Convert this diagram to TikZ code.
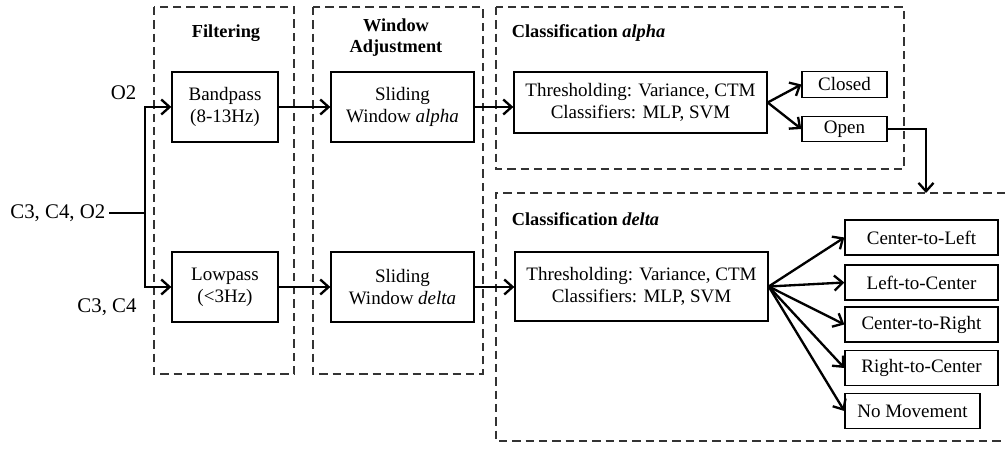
\documentclass[tikz,border=0pt]{standalone}
\usepackage{fontspec}
\setmainfont{Liberation Serif}
\usetikzlibrary{arrows.meta}
\tikzset{%
  >={Straight Barb[length=5pt,width=9pt]}, % open arrow heads
  flow/.style={->,line width=1.4pt},%
  stage box/.style={draw,line width=0.8pt,align=center,inner sep=2pt,
    font=\fontsize{11.4}{13.2}\selectfont},%
  signal label/.style={inner sep=2pt,font=\fontsize{12.5}{15}\selectfont},%
  group frame/.style={draw=black!80,line width=0.8pt,dash pattern=on 5pt off 3pt},%
  group title/.style={font=\fontsize{11}{13}\selectfont\bfseries,align=center}%
}

\begin{document}
\begin{tikzpicture}[x=0.6pt,y=-0.6pt]

%definitions
\def\W{1005} % picture width
\def\H{459} % picture height
\useasboundingbox (0,0) rectangle (\W,\H);
\coordinate (S) at (145,213); % split point of the inputs
\coordinate (D) at (926,193); % entry of classification delta

%frames
\draw[group frame] (154,7) rectangle (294,374);
\draw[group frame] (313,7) rectangle (483,374);
\draw[group frame] (496,7) rectangle (904,169);
\draw[group frame] (\W,193) -- (496,193) -- (496,441) -- (\W,441);

%titles
\node[group title] (TF) at (226,33) {Filtering};
\node[group title] (TW) at (396,37.5) {Window\\Adjustment};
\node[group title,anchor=west] (TA) at (506,33) {Classification \textit{alpha}};
\node[group title,anchor=west] (TD) at (506,219) {Classification \textit{delta}};

%boxes
\node[stage box,minimum width=63.6pt,minimum height=42pt] (BP) at (225,107)
  {Bandpass\\(8-13Hz)};
\node[stage box,minimum width=63.6pt,minimum height=42pt] (LP) at (225,287)
  {Lowpass\\(<3Hz)};
\node[stage box,minimum width=85.8pt,minimum height=42pt] (SA) at (402.5,107)
  {Sliding\\Window \textit{alpha}};
\node[stage box,minimum width=85.8pt,minimum height=42pt] (SD) at (402.5,287)
  {Sliding\\Window \textit{delta}};
\node[stage box,minimum width=151.8pt,minimum height=36.6pt] (TA1) at (640.5,102.5)
  {Thresholding: Variance, CTM\\Classifiers: MLP, SVM};
\node[stage box,minimum width=151.8pt,minimum height=41.4pt] (TD1) at (641.5,286.5)
  {Thresholding: Variance, CTM\\Classifiers: MLP, SVM};
\node[stage box,minimum width=51pt,minimum height=15.3pt] (CL) at (844.5,84.5) {Closed};
\node[stage box,minimum width=51pt,minimum height=15.3pt] (OP) at (844.5,129) {Open};
\node[stage box,minimum width=91.8pt,minimum height=21pt] (CtL) at (921.5,237.5) {Center-to-Left};
\node[stage box,minimum width=91.8pt,minimum height=21pt] (LtC) at (921.5,282.5) {Left-to-Center};
\node[stage box,minimum width=91.8pt,minimum height=21pt] (CtR) at (921.5,324.5) {Center-to-Right};
\node[stage box,minimum width=91.8pt,minimum height=21pt] (RtC) at (921.5,368) {Right-to-Center};
\node[stage box,minimum width=81pt,minimum height=21pt] (NM) at (912.5,411) {No Movement};

%labels
\node[signal label,anchor=east] (IN) at (109,213) {C3, C4, O2};
\node[signal label] (LO) at (123.5,93) {O2};
\node[signal label] (LC) at (107,307) {C3, C4};

%arrows
\draw[line width=1.4pt] (IN.east) -- (S);
\draw[flow] (S) |- (BP.west);
\draw[flow] (S) |- (LP.west);
\draw[flow] (BP) -- (SA);
\draw[flow] (LP) -- (SD);
\draw[flow] (SA.east) -- (SA.east -| TA1.west);
\draw[flow] (SD.east) -- (SD.east -| TD1.west);
\draw[flow] (TA1.east) -- (CL.west);
\draw[flow] (TA1.east) -- (OP.west);
\draw[flow] (OP.east) -| (D);
\foreach \n in {CtL,LtC,CtR,RtC,NM}
  \draw[flow] (TD1.east) -- (\n.west);

\end{tikzpicture}
\end{document}
